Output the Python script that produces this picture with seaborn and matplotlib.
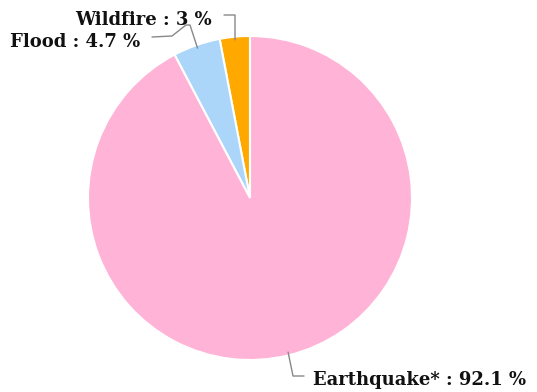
import numpy as np
import matplotlib
matplotlib.use("Agg")
import matplotlib.pyplot as plt
import seaborn as sns

labels = ["Wildfire", "Flood", "Earthquake*"]
values = [3.0, 4.7, 92.1]
colors = ["#FFA800", "#ABD6FA", "#FFB3D7"]

sns.set_theme(style="white")
plt.rcParams['font.family'] = ['DejaVu Serif']

W, H = 537, 392
fig = plt.figure(figsize=(W / 100, H / 100), dpi=100)
# pie centre (250, 198) px, radius 162 px
cx, cy, r = 250, 198, 162
ax = fig.add_axes([(cx - r) / W, (H - cy - r) / H, 2 * r / W, 2 * r / H])

wedges, _ = ax.pie(values, colors=colors, startangle=90, counterclock=True,
                   wedgeprops=dict(edgecolor="white", linewidth=1.5))
ax.set_xlim(-1, 1)
ax.set_ylim(-1, 1)
ax.set_axis_off()

def px(x, y):
    return ((x - cx) / r, (cy - y) / r)

def anchor(w):
    a = np.deg2rad((w.theta1 + w.theta2) / 2)
    return np.cos(a), np.sin(a)

# leader paths in pixels, starting after the wedge anchor
paths = {
    "Wildfire": [(235, 15), (224, 15)],
    "Flood": [(190, 25), (186, 25), (172, 36), (152, 37)],
    "Earthquake*": [(293, 376), (304, 376)],
}
texts = {
    "Wildfire": (212, 20, "right"),
    "Flood": (140, 42, "right"),
    "Earthquake*": (313, 380, "left"),
}

for w, lab, v in zip(wedges, labels, values):
    x0, y0 = anchor(w)
    pts = [(x0 * 0.98, y0 * 0.98)] + [px(*p) for p in paths[lab]]
    xs, ys = zip(*pts)
    ax.plot(xs, ys, color="#888888", lw=1, clip_on=False)
    tx, ty, ha = texts[lab]
    ax.text(*px(tx, ty), f"{lab} : {v:g} %", ha=ha, va="center",
            fontsize=13, fontweight="bold", color="#111111", clip_on=False)

fig.savefig("out.png", dpi=100, facecolor="white")
